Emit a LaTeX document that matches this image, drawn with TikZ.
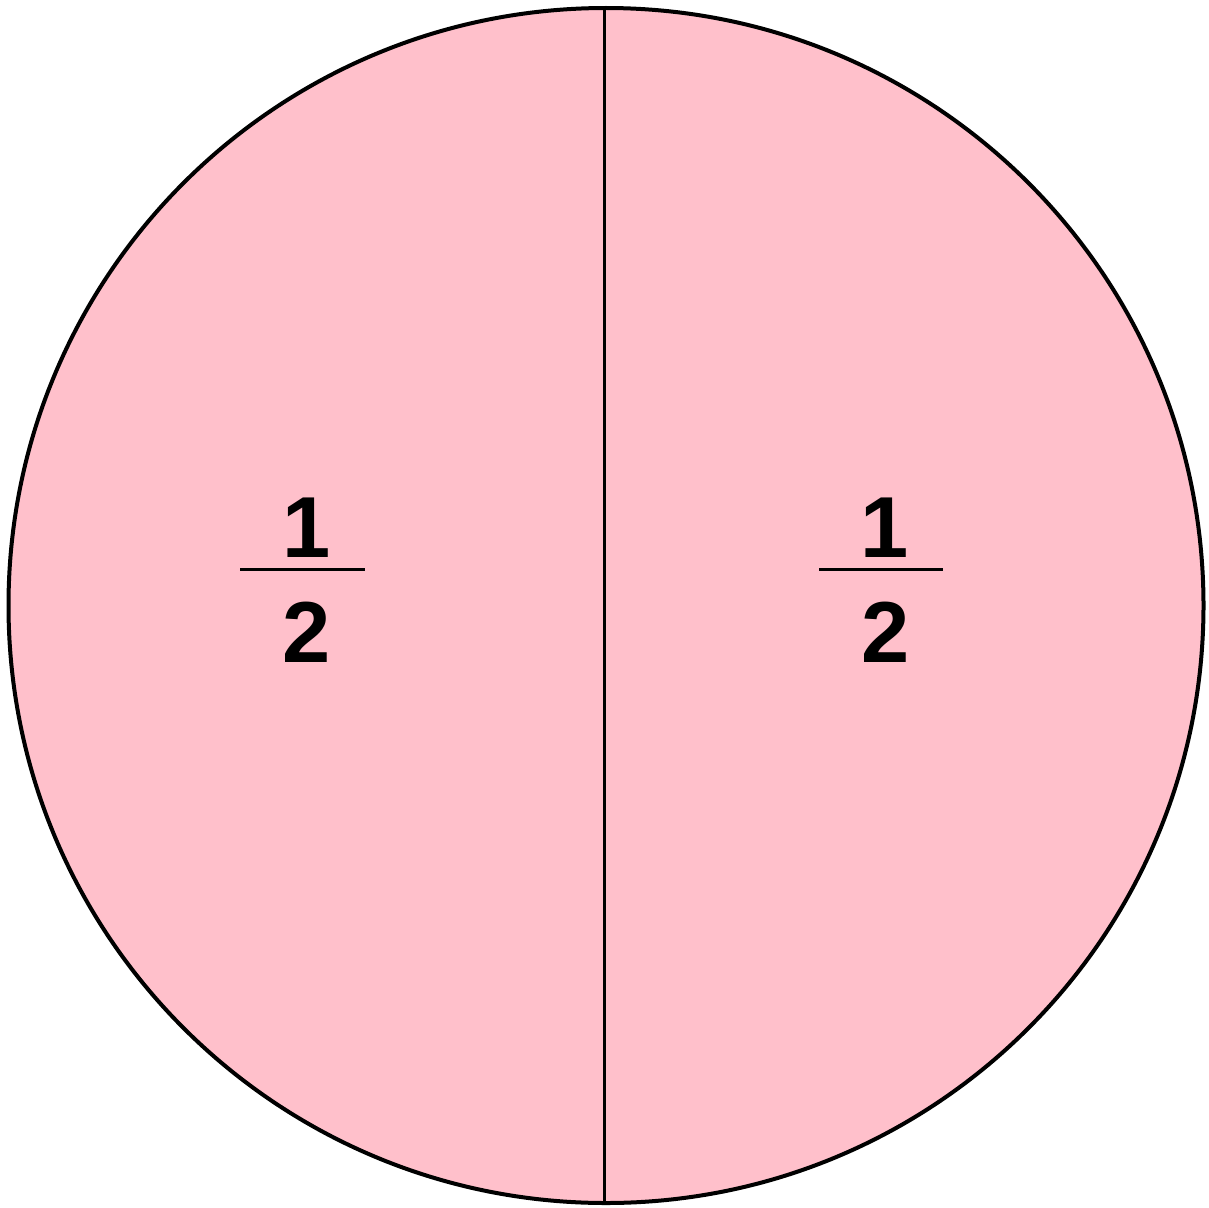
\documentclass[tikz,border=0pt]{standalone}
\usepackage{fontspec}
\setmainfont{Liberation Sans}
\definecolor{pinkfill}{RGB}{255,192,203}
\begin{document}
\begin{tikzpicture}[x=1pt,y=-1pt,
  digit/.style={inner sep=0pt, anchor=base, font=\fontsize{86.6}{90}\selectfont\bfseries},
  fracbar/.style={line width=3.5pt}]
\useasboundingbox (0,0) rectangle (1209,1207);
\coordinate (c) at (606,605.5);
\fill[pinkfill] (c) circle[radius=597.5];
\coordinate (top) at (604.7,8);
\coordinate (bot) at (604.7,1203);
\draw[line width=3pt] (top) -- (bot);
\draw[line width=4pt] (c) circle[radius=597.5];
% left fraction
\node[digit] (ln) at (306.5,557) {1};
\node[digit] (ld) at (307,662) {2};
\coordinate (lb1) at (240,569.5);
\coordinate (lb2) at (365,569.5);
\draw[fracbar] (lb1) -- (lb2);
% right fraction
\node[digit] (rn) at (885,557) {1};
\node[digit] (rd) at (885.5,662) {2};
\coordinate (rb1) at (819,569.5);
\coordinate (rb2) at (943,569.5);
\draw[fracbar] (rb1) -- (rb2);
\end{tikzpicture}
\end{document}
